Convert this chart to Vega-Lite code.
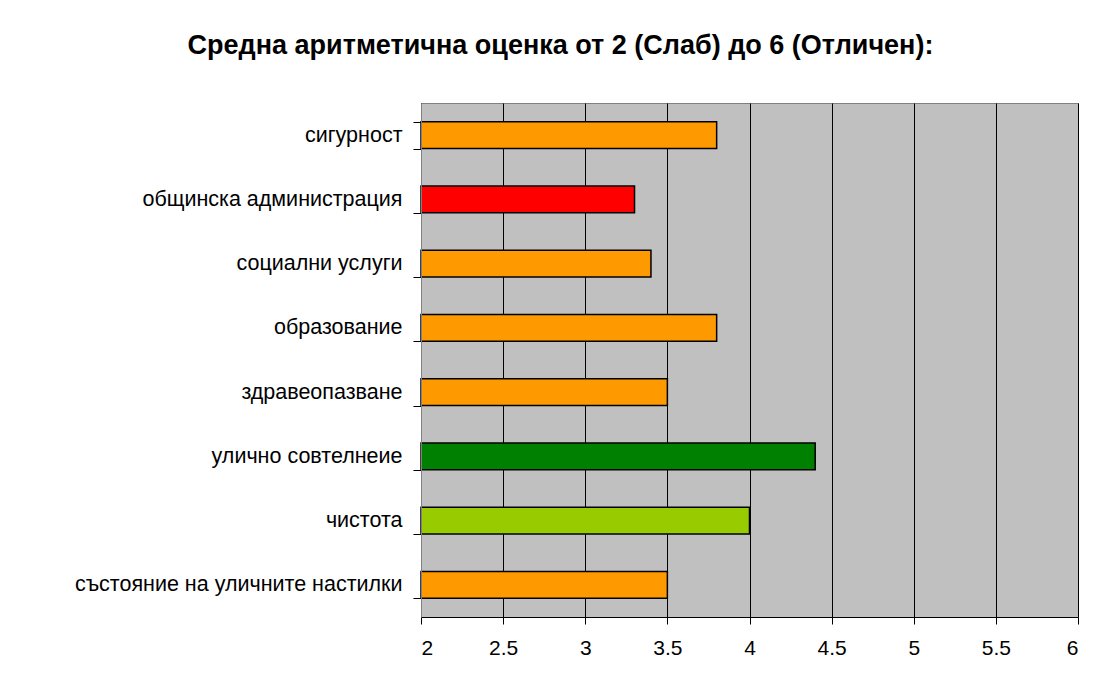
{
  "$schema": "https://vega.github.io/schema/vega-lite/v6.json",
  "autosize": {"type": "none"},
  "width": 657,
  "height": 514,
  "padding": {"left": 421, "top": 103, "right": 23, "bottom": 63},
  "background": "white",
  "title": {
    "text": "Средна аритметична оценка от 2 (Слаб) до 6 (Отличен):",
    "font": "Liberation Sans",
    "fontSize": 27,
    "fontWeight": "bold",
    "color": "black",
    "anchor": "middle",
    "frame": "group",
    "baseline": "alphabetic",
    "offset": 11,
    "dx": -189
  },
  "data": {
    "values": [
      {"category": "сигурност", "score": 3.8},
      {"category": "общинска администрация", "score": 3.3},
      {"category": "социални услуги", "score": 3.4},
      {"category": "образование", "score": 3.8},
      {"category": "здравеопазване", "score": 3.5},
      {"category": "улично совтелнеие", "score": 4.4},
      {"category": "чистота", "score": 4.0},
      {"category": "състояние на уличните настилки", "score": 3.5}
    ]
  },
  "mark": {"type": "bar", "stroke": "black", "strokeWidth": 1.5, "opacity": 1},
  "encoding": {
    "y": {
      "field": "category",
      "type": "nominal",
      "sort": null,
      "scale": {"paddingInner": 0.58, "paddingOuter": 0.29},
      "axis": {
        "title": null,
        "tickBand": "extent",
        "tickSize": 8,
        "tickColor": "black",
        "domainColor": "#808080",
        "labelPadding": 11,
        "labelFont": "Liberation Sans",
        "labelFontSize": 21.5,
        "labelColor": "black",
        "labelLimit": 400,
        "grid": false,
        "zindex": 1
      }
    },
    "x": {
      "field": "score",
      "type": "quantitative",
      "scale": {"domain": [2, 6], "zero": false, "nice": false},
      "axis": {
        "title": null,
        "values": [2, 2.5, 3, 3.5, 4, 4.5, 5, 5.5, 6],
        "format": "~g",
        "tickSize": 7,
        "tickColor": "black",
        "domainColor": "black",
        "labelPadding": 13,
        "labelFont": "Liberation Sans",
        "labelFontSize": 21,
        "labelColor": "black",
        "grid": true,
        "gridColor": "black",
        "gridOpacity": 1,
        "gridWidth": 1
      }
    },
    "x2": {"datum": 2},
    "color": {
      "field": "category",
      "type": "nominal",
      "legend": null,
      "scale": {
        "domain": ["сигурност", "общинска администрация", "социални услуги", "образование", "здравеопазване", "улично совтелнеие", "чистота", "състояние на уличните настилки"],
        "range": ["#FF9900", "#FF0000", "#FF9900", "#FF9900", "#FF9900", "#008000", "#99CC00", "#FF9900"]
      }
    }
  },
  "config": {
    "view": {"fill": "#C0C0C0", "stroke": "#808080", "strokeWidth": 1}
  }
}
